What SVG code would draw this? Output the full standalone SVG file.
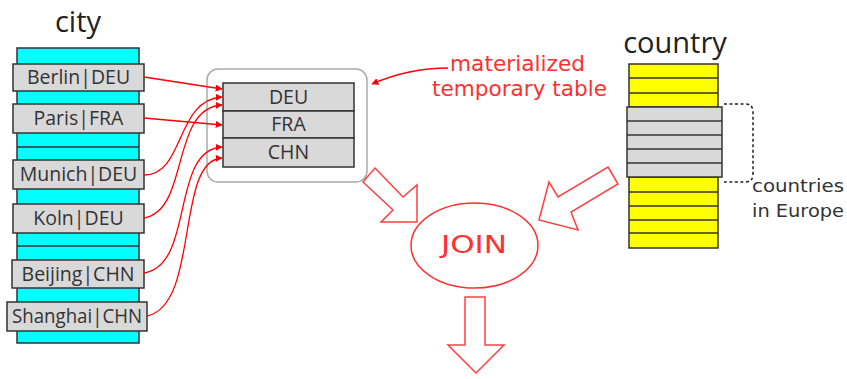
<svg xmlns="http://www.w3.org/2000/svg" width="847" height="379" viewBox="0 0 847 379">
<defs>
<style>
.cyan{fill:#00ffff;stroke:#333;stroke-width:1.5}
.yel{fill:#ffff00;stroke:#333;stroke-width:1.5}
.gray{fill:#d9d9d9;stroke:#333;stroke-width:1.5}
.row{stroke:#333;stroke-width:1.5}
.lbl{font-family:"Open Sans","Liberation Sans",sans-serif;font-size:19.5px;fill:#333;text-anchor:middle}
.title{font-family:"Open Sans","Liberation Sans",sans-serif;font-size:29px;fill:#222;text-anchor:middle}
.comic{font-family:"DejaVu Sans","Liberation Sans",sans-serif;fill:#ff3030}
.conn{fill:none;stroke:#ff0000;stroke-width:1.3;marker-end:url(#ah)}
.block{fill:#fff;stroke:#ff4040;stroke-width:1.5}
</style>
<marker id="ah" viewBox="0 0 10 10" refX="9" refY="5" markerWidth="7" markerHeight="7" orient="auto" markerUnits="userSpaceOnUse">
<path d="M0,0 L10,5 L0,10 z" fill="#ff0000"/>
</marker>
</defs>
<rect width="847" height="379" fill="#fff"/>

<g id="city">
<text class="title" x="78" y="32">city</text>
<rect class="cyan" x="17" y="48" width="122" height="295"/>
<line class="row" x1="17" y1="147" x2="139" y2="147"/>
<line class="row" x1="17" y1="246" x2="139" y2="246"/>
<rect class="gray" x="13" y="64" width="131" height="27"/>
<text class="lbl" x="78.5" y="84">Berlin|DEU</text>
<rect class="gray" x="13" y="104" width="131" height="29"/>
<text class="lbl" x="78.5" y="125">Paris|FRA</text>
<rect class="gray" x="13" y="160" width="131" height="29"/>
<text class="lbl" x="78.5" y="181">Munich|DEU</text>
<rect class="gray" x="13" y="204" width="131" height="29"/>
<text class="lbl" x="78.5" y="225">Koln|DEU</text>
<rect class="gray" x="12" y="260" width="132" height="28"/>
<text class="lbl" x="78" y="281">Beijing|CHN</text>
<rect class="gray" x="7" y="302" width="140" height="29"/>
<text class="lbl" x="77" y="323" textLength="130" lengthAdjust="spacingAndGlyphs">Shanghai|CHN</text>
</g>

<g id="temp">
<rect x="207" y="69" width="160" height="113" rx="11" fill="#fff" stroke="#aaa" stroke-width="1.5"/>
<rect class="gray" x="223" y="83" width="131" height="28"/>
<rect class="gray" x="223" y="111" width="131" height="27"/>
<rect class="gray" x="223" y="138" width="131" height="29"/>
<text class="lbl" x="288.5" y="104">DEU</text>
<text class="lbl" x="288.5" y="131">FRA</text>
<text class="lbl" x="288.5" y="159">CHN</text>
</g>

<g id="note">
<text class="comic" font-size="21" x="450" y="71" textLength="135" lengthAdjust="spacingAndGlyphs">materialized</text>
<text class="comic" font-size="21" x="432" y="96" textLength="175" lengthAdjust="spacingAndGlyphs">temporary table</text>
</g>

<g id="country">
<text class="title" x="675" y="53">country</text>
<rect class="yel" x="629" y="64" width="89" height="43"/>
<line class="row" x1="629" y1="78" x2="718" y2="78"/>
<line class="row" x1="629" y1="93" x2="718" y2="93"/>
<rect class="yel" x="629" y="177" width="89" height="71"/>
<line class="row" x1="629" y1="192" x2="718" y2="192"/>
<line class="row" x1="629" y1="206" x2="718" y2="206"/>
<line class="row" x1="629" y1="220" x2="718" y2="220"/>
<line class="row" x1="629" y1="233" x2="718" y2="233"/>
<rect class="gray" x="627" y="107" width="95" height="70"/>
<line class="row" x1="627" y1="121" x2="722" y2="121"/>
<line class="row" x1="627" y1="135" x2="722" y2="135"/>
<line class="row" x1="627" y1="149" x2="722" y2="149"/>
<line class="row" x1="627" y1="163" x2="722" y2="163"/>
<path d="M724,104 H745 Q753,104 753,112 V174 Q753,182 745,182 H724" fill="none" stroke="#222" stroke-width="1.5" stroke-dasharray="3,2.5"/>
<text font-family="DejaVu Sans,Liberation Sans,sans-serif" font-size="17" fill="#333" x="752" y="192" textLength="92" lengthAdjust="spacingAndGlyphs">countries</text>
<text font-family="DejaVu Sans,Liberation Sans,sans-serif" font-size="17" fill="#333" x="752" y="217" textLength="92" lengthAdjust="spacingAndGlyphs">in Europe</text>
</g>

<g id="join">
<ellipse cx="474.5" cy="245.5" rx="63.5" ry="42.5" fill="#fff" stroke="#ff3030" stroke-width="1.5"/>
<text class="comic" font-size="25" x="441" y="253" textLength="66" lengthAdjust="spacingAndGlyphs">JOIN</text>
</g>

<g id="connectors">
<path class="conn" d="M144,77 L222,89"/>
<path class="conn" d="M144,118 L222,125"/>
<path class="conn" d="M144,175 C185,175 175,100 222,97"/>
<path class="conn" d="M144,218 C190,210 170,108 222,105"/>
<path class="conn" d="M144,273 C195,265 170,150 222,147"/>
<path class="conn" d="M147,316 C200,305 175,160 222,158"/>
<path class="conn" d="M448,68 C420,68 395,74 372,84"/>
<polygon class="block" points="375,168 403,197 417,185 417,222 381,222 393,210 363,182"/>
<polygon class="block" points="608,167 618,184 571,212 578,230 539,220 549,182 558,197"/>
<polygon class="block" points="465,297 485,297 485,345 504,345 476,373 448,345 465,345"/>
</g>
</svg>
